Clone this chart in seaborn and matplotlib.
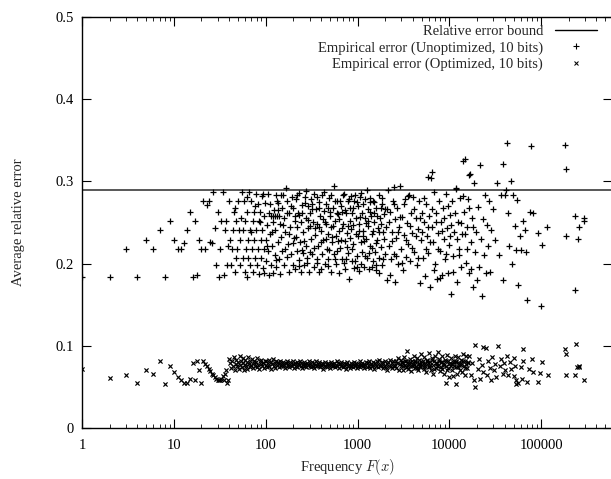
import matplotlib
matplotlib.use("Agg")
import matplotlib.pyplot as plt
import seaborn as sns
import pandas as pd
from matplotlib.lines import Line2D
from matplotlib.ticker import FixedLocator, FixedFormatter, LogLocator, NullFormatter

# ---------------- data ----------------
bound_value = 0.29

x_ticks = [1, 10, 100, 1000, 10000, 100000]
x_tick_labels = ["1", "10", "100", "1000", "10000", "100000"]
y_ticks = [0, 0.1, 0.2, 0.3, 0.4, 0.5]
y_tick_labels = ["0", "0.1", "0.2", "0.3", "0.4", "0.5"]

label_bound = "Relative error bound"
label_unopt = "Empirical error (Unoptimized, 10 bits)"
label_opt = "Empirical error (Optimized, 10 bits)"

# Unoptimized (+)
unopt_freq_low = [1, 2, 3, 4, 5, 6, 7, 8, 9, 10, 11, 12, 13, 14, 15, 16, 17, 18, 19, 20,
                  21, 22, 23, 24, 25, 26, 27, 28, 29, 30, 31, 32, 33, 34, 35, 36, 37, 38, 39]
unopt_err_low = [.184, .184, .218, .184, .229, .218, .241, .184, .252, .229, .218, .218, .225, .241, .263, .184, .252, .186, .229, .218,
                 .276, .218, .271, .276, .226, .225, .287, .243, .198, .263, .184, .218, .252, .287, .186, .241, .252, .198, .222]

unopt_freq_a = [40, 41, 42, 43, 44, 45, 46, 47, 48, 49, 50, 51, 52, 53, 55, 56, 57, 58, 59, 60,
                61, 62, 63, 64, 65, 66, 67, 68, 70, 71, 72, 73, 74, 75, 77, 78, 79, 80, 82, 83,
                84, 85, 87, 88, 89, 91, 92, 93, 95, 96, 97, 99, 100, 102, 104, 105, 107, 108, 110, 112,
                113, 115, 117, 119, 120, 121, 123, 125, 126, 127, 129, 131, 132, 133, 135, 137, 138, 140, 142, 144,
                147, 149, 152, 155, 157, 160, 163, 166, 169, 172, 175, 178, 181, 185, 188, 192, 196]
unopt_err_a = [.276, .229, .198, .218, .241, .263, .190, .207, .252, .218, .276, .241, .198, .229, .287, .207, .241, .276, .190, .252,
               .218, .184, .263, .207, .229, .287, .241, .198, .276, .218, .252, .190, .263, .229, .207, .285, .241, .198, .272, .218,
               .252, .187, .263, .229, .207, .282, .241, .195, .218, .258, .189, .274, .229, .203, .247, .285, .215, .186, .262, .236,
               .198, .258, .222, .250, .258, .188, .265, .211, .258, .241, .283, .196, .258, .276, .226, .274, .258, .205, .248, .187,
               .232, .268, .215, .284, .198, .255, .238, .292, .208, .276, .224, .190, .262, .245, .212, .281, .198]

unopt_freq_b1 = [200, 203, 206, 210, 213, 217, 220, 224, 228, 232, 236, 240, 244, 248, 253, 257, 262, 267, 272, 277,
                 282, 287, 292, 298, 303, 309, 315, 320, 326, 332, 338, 345, 351, 358, 364, 371, 378, 385, 392, 400,
                 407, 415, 422, 430, 438, 446, 455, 463, 472, 481, 490, 499, 508, 518, 528, 538, 548, 558, 568, 579,
                 590, 601, 612, 624, 635, 647, 660, 672, 684, 697, 710, 723, 737, 751, 765, 779, 794, 809, 824, 839,
                 855, 871, 887, 904, 921, 938, 955, 973, 991, 1010, 1029, 1048, 1068, 1088, 1108, 1129, 1150, 1171, 1193, 1216,
                 1238, 1262, 1285, 1309, 1334, 1359, 1384, 1410, 1437, 1464, 1491, 1519, 1548, 1577, 1606, 1636, 1667, 1698, 1730, 1762,
                 1795, 1829, 1863, 1898, 1934, 1970]
unopt_err_b1 = [.268, .231, .252, .193, .279, .215, .244, .262, .204, .286, .226, .250, .190, .271, .213, .238, .198, .281, .256, .222,
                .207, .270, .243, .190, .262, .230, .278, .212, .250, .196, .285, .235, .267, .205, .248, .221, .275, .190, .258, .240,
                .212, .283, .229, .264, .199, .251, .272, .218, .236, .206, .280, .258, .190, .244, .226, .268, .212, .294, .252, .233,
                .200, .276, .260, .188, .240, .219, .270, .263, .206, .248, .285, .228, .194, .262, .237, .276, .213, .181, .252, .242,
                .282, .203, .268, .224, .195, .284, .256, .236, .209, .270, .248, .191, .281, .226, .262, .214, .240, .196, .278, .255,
                .230, .207, .267, .246, .194, .280, .222, .258, .236, .203, .276, .250, .214, .192, .268, .229, .243, .207, .283, .255,
                .220, .198, .272, .238, .260, .212]

unopt_freq_b2 = [215, 230, 250, 265, 285, 300, 318, 340, 360, 380, 405, 425, 450, 475, 495, 520, 545, 570, 595, 620,
                 650, 680, 705, 735, 770, 800, 830, 865, 900, 940, 980, 1020, 1060, 1100, 1140, 1180, 1225, 1270, 1320, 1370,
                 1420, 1475, 1530, 1590, 1650, 1710, 1780, 1850, 1920, 1990]
unopt_err_b2 = [.232, .259, .217, .274, .201, .246, .266, .219, .281, .244, .193, .254, .230, .268, .216, .284, .246, .205, .262, .228,
                .276, .243, .201, .265, .220, .278, .231, .262, .247, .203, .275, .233, .257, .199, .272, .227, .249, .289, .213, .263,
                .196, .240, .275, .225, .258, .188, .248, .280, .230, .266]

unopt_freq_e = [46, 54, 62, 69, 76, 86, 94, 103, 111, 118, 128, 136, 145, 153, 162, 171, 180, 190, 199, 209,
                219, 233, 246, 259, 274, 290, 306, 323, 342, 362, 383, 404, 427, 451, 477, 504, 533, 563, 595, 628,
                664, 702, 742, 784, 828, 875, 925, 977, 1032, 1091, 1153, 1218, 1287, 1360, 1437, 1519, 1605, 1696, 1792, 1894]
unopt_err_e = [.268, .256, .281, .238, .270, .250, .285, .221, .273, .239, .204, .265, .283, .247, .218, .262, .236, .270, .225, .258,
               .284, .197, .262, .228, .288, .253, .214, .273, .243, .201, .268, .226, .287, .248, .197, .263, .232, .276, .215, .254,
               .229, .284, .205, .246, .268, .218, .276, .196, .240, .286, .233, .209, .252, .275, .219, .262, .198, .238, .268, .205]

unopt_freq_c1 = [2030, 2080, 2130, 2180, 2240, 2300, 2350, 2410, 2470, 2530, 2590, 2650, 2720, 2790, 2860, 2930, 3000, 3080, 3160, 3240,
                 3320, 3400, 3490, 3580, 3670, 3760, 3860, 3960, 4060, 4170, 4280, 4390, 4500, 4620, 4740, 4860, 4990, 5120, 5250, 5390,
                 5530, 5670, 5820, 5970, 6130, 6290, 6450, 6620, 6790, 6970, 7150, 7340, 7530, 7730, 7930, 8140, 8350, 8570, 8790, 9020,
                 9260, 9500, 9750, 10000, 10260, 10530, 10800, 11080, 11370, 11670, 11970, 12280, 12600, 12930, 13270, 13620, 13970, 14340, 14710, 15090,
                 15490, 15890, 16300, 16730, 17160, 17610, 18070, 18540, 19020, 19520, 20030, 20550, 21080, 21630, 22200, 22780, 23370, 23980, 24600, 25240,
                 25900, 26580, 27270, 27980, 28710]
unopt_err_c1 = [.245, .180, .290, .222, .263, .205, .239, .276, .212, .254, .178, .231, .268, .200, .244, .295, .218, .257, .192, .235,
                .279, .208, .249, .224, .283, .203, .262, .237, .281, .214, .255, .198, .242, .276, .176, .229, .261, .207, .250, .185,
                .272, .233, .213, .258, .172, .304, .244, .226, .287, .200, .262, .181, .237, .276, .215, .250, .186, .268, .230, .205,
                .285, .243, .189, .223, .259, .163, .276, .209, .238, .292, .178, .251, .218, .280, .196, .236, .325, .263, .327, .201,
                .244, .279, .189, .309, .226, .255, .172, .298, .214, .238, .180, .269, .196, .320, .230, .160, .254, .210, .283, .188,
                .247, .222, .276, .190, .241]

unopt_freq_c2 = [2100, 2200, 2280, 2380, 2500, 2620, 2750, 2890, 3040, 3200, 3360, 3530, 3710, 3900, 4100, 4310, 4530, 4760, 5000, 5260,
                 5530, 5810, 6110, 6420, 6750, 7090, 7450, 7830, 8230, 8650, 9090, 9550, 10040, 10550, 11090, 11650, 12240, 12860, 13520, 14200,
                 14930, 15690, 16490, 17330, 18210, 2490, 5790, 6390, 16230, 11750]
unopt_err_c2 = [.266, .251, .186, .228, .273, .209, .238, .257, .201, .272, .229, .282, .246, .219, .266, .234, .207, .256, .238, .280,
                .218, .245, .226, .267, .192, .250, .218, .182, .240, .256, .212, .270, .234, .247, .190, .261, .230, .210, .249, .282,
                .236, .218, .268, .193, .245, .293, .305, .311, .308, .291]

unopt_freq_d = [30000, 31500, 33000, 34800, 36600, 38000, 38500, 40300, 41500, 42300, 44000, 45000, 46400, 48500, 49600, 52000, 53500, 54000, 55500, 58500,
                60500, 63000, 66100, 69000, 70000, 76000, 77700, 81500, 92500, 101000, 100000, 115000, 182000, 188000, 188000, 235000, 232000, 250000, 255000, 290000,
                295000]
unopt_err_d = [.267, .229, .298, .210, .284, .180, .321, .283, .290, .347, .261, .222, .301, .200, .283, .246, .217, .277, .174, .234,
               .216, .252, .241, .214, .156, .263, .343, .261, .237, .223, .148, .245, .344, .315, .234, .258, .168, .230, .245, .256,
               .252]

# Optimized (x)
opt_freq_low = [1, 2, 3, 4, 5, 6, 7, 8, 9, 10, 11, 12, 13, 14, 15, 16, 17, 18, 19, 20,
                21, 22, 23, 24, 25, 26, 27, 28, 29, 30, 31, 32, 33, 34, 35, 36, 37, 38, 39]
opt_err_low = [.072, .061, .065, .055, .071, .066, .082, .054, .075, .068, .062, .058, .055, .055, .060, .079, .059, .082, .071, .055,
               .082, .078, .075, .072, .069, .066, .064, .062, .060, .059, .058, .059, .060, .063, .058, .066, .071, .055, .058]

opt_freq_b1 = [40, 41, 42, 43, 44, 45, 46, 47, 48, 49, 50, 51, 52, 53, 54, 55, 56, 57, 58, 59,
               60, 61, 62, 63, 65, 66, 67, 68, 70, 71, 72, 74, 75, 77,
               78, 80, 81, 83, 85, 86, 88, 90, 92, 94, 96, 98,
               100, 102, 104, 106, 108, 110, 113, 115, 117, 120, 122, 125, 127, 130, 133, 135, 138, 141, 144, 147, 150]
opt_err_b1 = [.084, .079, .073, .081, .076, .086, .071, .078, .083, .075, .080, .072, .087, .077, .082, .074, .079, .085, .071, .077,
              .083, .076, .080, .072, .086, .078, .074, .081, .077, .084, .073, .079, .082, .075,
              .080, .074, .085, .077, .072, .081, .078, .083, .075, .079, .073, .082,
              .077, .081, .074, .079, .083, .076, .072, .080, .078, .084, .075, .079, .073, .082, .077, .080, .074, .078, .081, .076, .079]

opt_freq_b2 = [153, 156, 159, 163, 166, 170, 173, 177, 180, 184, 188, 192, 196, 200, 204, 208, 212, 217, 221, 226, 230, 235, 240, 245, 250, 255, 260, 266, 271, 277, 282, 288, 294, 300,
               306, 313, 319, 326, 332, 339, 346, 353, 361, 368, 376, 384, 392, 400, 408, 417, 425, 434, 443, 452, 462, 471, 481, 491, 501, 512, 522, 533, 544, 556, 567, 579, 591,
               603, 616, 629, 642, 655, 669, 683, 697, 711, 726, 741, 757, 772, 788, 805, 822, 839, 856, 874, 892, 911, 930, 949, 969, 989, 1010, 1030, 1052, 1074, 1096, 1119, 1142, 1166, 1190,
               1215, 1240, 1266, 1292, 1319, 1346, 1374, 1403, 1432, 1462, 1492, 1523, 1555, 1587, 1620, 1654, 1688, 1723, 1759, 1796, 1833, 1871, 1910, 1950, 1990, 2032, 2074, 2117, 2161, 2206, 2252, 2299, 2347, 2396, 2446, 2497]
opt_err_b2 = [.075, .080, .077, .073, .079, .082, .076, .078, .074, .080, .077, .075, .081, .078, .073, .079, .076, .080, .074, .078, .077, .081, .075, .079, .073, .077, .080, .076, .078, .074, .079, .077, .081, .075,
              .078, .074, .080, .076, .079, .073, .077, .081, .075, .078, .076, .080, .074, .077, .079, .072, .078, .076, .080, .075, .078, .074, .079, .077, .073, .080, .076, .078, .075, .079, .074, .077, .081,
              .076, .079, .073, .078, .075, .080, .077, .074, .079, .076, .072, .078, .080, .075, .077, .073, .079, .076, .078, .074, .080, .075, .077, .079, .073, .076, .078, .081, .074, .077, .079, .075, .078, .073,
              .077, .080, .074, .079, .076, .082, .073, .078, .075, .080, .077, .072, .079, .076, .081, .074, .078, .083, .075, .077, .080, .073, .079, .076, .082, .074, .078, .071, .080, .076, .083, .075, .079, .073, .081, .077]

opt_freq_b3 = [2549, 2602, 2656, 2711, 2767, 2825, 2884, 2944, 3005, 3068, 3131, 3197, 3263, 3331, 3400, 3471, 3543, 3617, 3692, 3769, 3848, 3928, 4010, 4093, 4178, 4265, 4354, 4445, 4537, 4632, 4728, 4827, 4927, 5030,
               5134, 5241, 5350, 5462, 5575, 5691, 5810, 5931, 6054, 6180, 6309, 6440, 6574, 6711, 6851, 6993, 7139, 7288, 7439, 7594, 7752, 7914, 8078, 8246, 8418, 8593, 8772, 8955, 9141, 9331, 9525, 9723, 9926, 10132,
               10343, 10558, 10778, 11002, 11231, 11465, 11703, 11947, 12195, 12449, 12708, 12972, 13242, 13518, 13799, 14086, 14379, 14678, 14984, 15295, 15613, 15938]
opt_err_b3 = [.076, .082, .073, .079, .085, .071, .078, .083, .075, .080, .070, .086, .077, .074, .081, .094, .072, .079, .084, .076, .069, .082, .078, .088, .073, .080, .075, .085, .070, .078, .083, .074, .090, .077,
              .081, .072, .086, .076, .068, .083, .079, .091, .074, .080, .070, .085, .077, .066, .082, .088, .073, .079, .093, .075, .084, .069, .080, .087, .072, .078, .066, .083, .076, .089, .071, .081, .062, .079,
              .085, .070, .078, .063, .082, .088, .074, .080, .066, .086, .077, .071, .083, .079, .068, .090, .075, .081, .064, .087, .073, .079]

opt_freq_b4 = [3030, 3150, 3290, 3430, 3580, 3740, 3900, 4070, 4250, 4430, 4620, 4820, 5030, 5250, 5480, 5720, 5970, 6230, 6500, 6780,
               7080, 7390, 7710, 8050, 8400, 8770, 9150, 9550, 9970, 10400, 10860, 11330, 11830, 12340, 12880, 13440, 14030, 14640, 15280, 15950]
opt_err_b4 = [.079, .076, .081, .074, .078, .080, .075, .077, .082, .073, .079, .076, .080, .074, .078, .081, .075, .077, .083, .072,
              .079, .076, .081, .074, .080, .077, .082, .073, .078, .075, .080, .076, .082, .074, .079, .077, .081, .073, .078, .080]

opt_freq_c = [16500, 17200, 17800, 18500, 18800, 19000, 20300, 21000, 21800, 22500, 23300, 23000, 25300, 25600, 26500, 27400, 28300, 29300, 30300, 31300,
              32400, 33900, 35500, 36700, 38000, 39400, 40800, 42200, 43700, 45200, 46900, 50000, 50200, 52000, 53000, 55700, 53000, 59600, 61700, 63000,
              64000, 70000, 73000, 80000, 81000, 92000, 97000, 101000, 120000, 182000, 184000, 184000, 237000, 233000, 248000, 255000, 258000, 290000, 9300, 11700]
opt_err_c = [.088, .065, .079, .058, .101, .050, .072, .084, .060, .077, .068, .099, .097, .064, .081, .073, .059, .086, .070, .078,
             .062, .100, .075, .084, .066, .079, .071, .088, .064, .080, .072, .085, .063, .076, .054, .055, .058, .074, .060, .0955,
             .082, .056, .072, .084, .068, .056, .0665, .080, .0645, .096, .090, .0645, .102, .0645, .0746, .076, .074, .058, .055, .054]

# ---------------- assemble ----------------
unopt = pd.DataFrame({
    "freq": unopt_freq_low + unopt_freq_a + unopt_freq_b1 + unopt_freq_b2 + unopt_freq_e
            + unopt_freq_c1 + unopt_freq_c2 + unopt_freq_d,
    "err": unopt_err_low + unopt_err_a + unopt_err_b1 + unopt_err_b2 + unopt_err_e
           + unopt_err_c1 + unopt_err_c2 + unopt_err_d,
})
opt = pd.DataFrame({
    "freq": opt_freq_low + opt_freq_b1 + opt_freq_b2 + opt_freq_b3 + opt_freq_b4 + opt_freq_c,
    "err": opt_err_low + opt_err_b1 + opt_err_b2 + opt_err_b3 + opt_err_b4 + opt_err_c,
})

# ---------------- style ----------------
sns.set_theme(style="ticks")
plt.rcParams["font.family"] = ["Liberation Serif", "DejaVu Serif"]
plt.rcParams["mathtext.fontset"] = "cm"
FS = 10.5

W, H = 611, 479
fig = plt.figure(figsize=(W / 100, H / 100), dpi=100)
ax = fig.add_axes([82 / W, 1 - 428 / H, 530 / W, 411 / H])

sns.scatterplot(data=unopt, x="freq", y="err", marker="+", s=19, color="black",
                linewidth=0.9, ax=ax, legend=False, zorder=3)
sns.scatterplot(data=opt, x="freq", y="err", marker="x", s=9, color="black",
                linewidth=0.85, ax=ax, legend=False, zorder=3)
ax.axhline(bound_value, color="#4a4a4a", linewidth=1.3, zorder=2)

ax.set_xscale("log")
ax.set_xlim(1, 5.9e5)
ax.set_ylim(0, 0.5)

ax.xaxis.set_major_locator(FixedLocator(x_ticks))
ax.xaxis.set_major_formatter(FixedFormatter(x_tick_labels))
ax.xaxis.set_minor_locator(LogLocator(base=10, subs=[2, 3, 4, 5, 6, 7, 8, 9], numticks=20))
ax.xaxis.set_minor_formatter(NullFormatter())
ax.yaxis.set_major_locator(FixedLocator(y_ticks))
ax.yaxis.set_major_formatter(FixedFormatter(y_tick_labels))

ax.tick_params(axis="both", which="major", direction="in", length=6.5, width=0.8,
               top=True, right=True, labelsize=FS, colors="black")
ax.tick_params(axis="x", which="minor", direction="in", length=3, width=0.7, top=True, bottom=True)
ax.tick_params(axis="x", which="major", pad=8)
ax.tick_params(axis="y", which="major", pad=6)

for sp in ax.spines.values():
    sp.set_linewidth(1.0)
    sp.set_color("black")

ax.set_xlabel("Frequency $F(x)$", fontsize=FS)
ax.set_ylabel("Average relative error", fontsize=FS)
ax.xaxis.set_label_coords(0.5, -0.07)
ax.yaxis.set_label_coords(-0.108, 0.5)

handles = [
    Line2D([], [], color="black", linewidth=1.0),
    Line2D([], [], color="black", marker="+", linestyle="none", markersize=4, markeredgewidth=0.8),
    Line2D([], [], color="black", marker="x", linestyle="none", markersize=3, markeredgewidth=0.75),
]
ax.legend(handles, [label_bound, label_unopt, label_opt], loc="upper right",
          bbox_to_anchor=((597 - 82) / 530, (428 - 25) / 411), markerfirst=False,
          frameon=False, fontsize=FS, handlelength=2.9, handletextpad=0.8,
          labelspacing=0.2, borderpad=0, borderaxespad=0)

fig.savefig("out.png", dpi=100, facecolor="white")
